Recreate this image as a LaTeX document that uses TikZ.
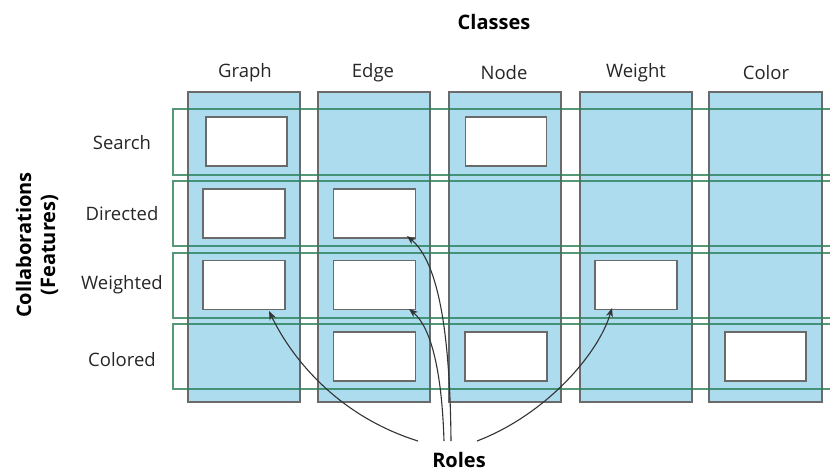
\documentclass[tikz,border=0pt]{standalone}
\usepackage{fontspec}
\setmainfont{Open Sans}
\usetikzlibrary{arrows.meta}
\definecolor{colfill}{HTML}{ADDCEF}
\definecolor{colline}{HTML}{6A6A6A}
\definecolor{rowline}{HTML}{2A8058}
\definecolor{roleline}{HTML}{333333}
\tikzset{
  classcol/.style={fill=colfill, draw=colline, line width=1.3pt},
  rolebox/.style={fill=white, draw=colline, line width=1.5pt, inner sep=0pt,
                  minimum width=82pt, minimum height=49pt},
  featrow/.style={draw=rowline, draw opacity=0.8, line width=1.4pt},
  lbl/.style={font=\fontsize{18.5}{21}\selectfont, text=black!85},
  heading/.style={font=\fontsize{20}{23}\selectfont\bfseries},
  rolearrow/.style={draw=roleline, line width=1.1pt, -{Stealth[length=9pt,width=7pt]}}
}
\begin{document}
\begin{tikzpicture}[x=1pt,y=-1pt]
\useasboundingbox (0,0) rectangle (830,472);

% class columns
\path[classcol] (188,92) rectangle (300,402);
\path[classcol] (318,92) rectangle (430,402);
\path[classcol] (449,92) rectangle (561,402);
\path[classcol] (580,92) rectangle (692,402);
\path[classcol] (709,92) rectangle (822,402);

% feature rows, open to the right
\draw[featrow] (831,109) -- (173,109) -- (173,175) -- (831,175);
\draw[featrow] (831,181) -- (173,181) -- (173,246) -- (831,246);
\draw[featrow] (831,253) -- (173,253) -- (173,318) -- (831,318);
\draw[featrow] (831,324) -- (173,324) -- (173,389) -- (831,389);

% roles (class x feature)
\node[rolebox, minimum width=81pt] (gs) at (246.5,141.5) {};
\node[rolebox, minimum width=81pt] (ns) at (506,141.5) {};
\node[rolebox] (gd) at (244,213.5) {};
\node[rolebox] (ed) at (374.5,213.5) {};
\node[rolebox] (gw) at (244,285) {};
\node[rolebox] (ew) at (374.5,285) {};
\node[rolebox] (ww) at (636,285) {};
\node[rolebox] (ec) at (374.5,356.5) {};
\node[rolebox] (nc) at (506,356.5) {};
\node[rolebox, minimum width=81pt] (cc) at (765.5,356.5) {};

% headings and labels
\node[heading] (classes) at (494,22) {Classes};
\node[lbl] (lgraph) at (245,73) {Graph};
\node[lbl] (ledge) at (373,73) {Edge};
\node[lbl] (lnode) at (504,73) {Node};
\node[lbl] (lweight) at (636,73) {Weight};
\node[lbl] (lcolor) at (766,73) {Color};

\node[lbl] (lsearch) at (122,143) {Search};
\node[lbl] (ldirected) at (122,214) {Directed};
\node[lbl] (lweighted) at (122,285) {Weighted};
\node[lbl] (lcolored) at (122,360) {Colored};

\node[heading, rotate=90, align=center, inner sep=0pt] (collab) at (37,245) {Collaborations\\[1pt](Features)};
\node[heading, anchor=base, inner sep=0pt] (roles) at (459,467) {Roles};

% arrows from the Roles caption
\coordinate (r1) at (418,441);
\coordinate (r2) at (444,441);
\coordinate (r3) at (451,441);
\coordinate (r4) at (477,441);
\coordinate (t1) at (269,311);
\coordinate (t2) at (409,309);
\coordinate (t3) at (407,236);
\coordinate (t4) at (612,308);
\draw[rolearrow] (r1) .. controls (335,415) and (290,355) .. (t1);
\draw[rolearrow] (r2) .. controls (442,375) and (432,328) .. (t2);
\draw[rolearrow] (r3) .. controls (450,330) and (438,262) .. (t3);
\draw[rolearrow] (r4) .. controls (545,415) and (598,355) .. (t4);
\end{tikzpicture}
\end{document}
